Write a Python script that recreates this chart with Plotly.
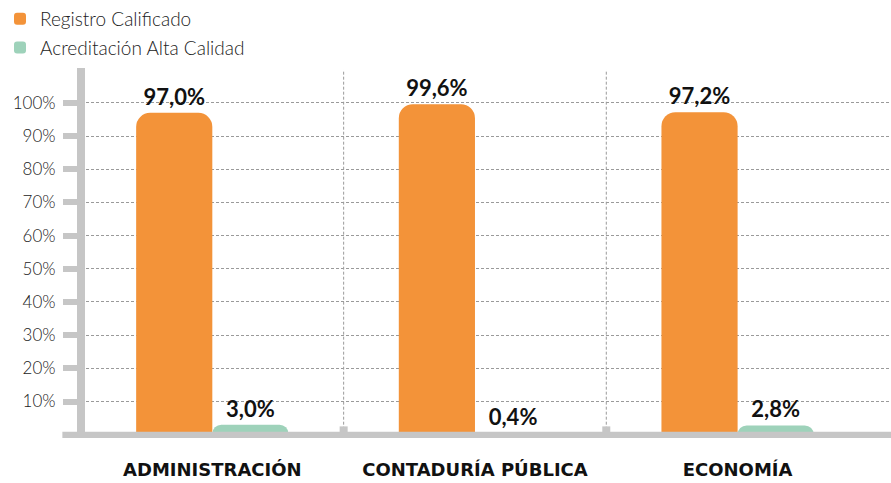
import plotly.graph_objects as go

categories = ["ADMINISTRACIÓN", "CONTADURÍA PÚBLICA", "ECONOMÍA"]
registro = [97.0, 99.6, 97.2]
acreditacion = [3.0, 0.4, 2.8]
series_names = ["Registro Calificado", "Acreditación Alta Calidad"]
ytick_vals = [10, 20, 30, 40, 50, 60, 70, 80, 90, 100]
ytick_text = [f"{v}%" for v in ytick_vals]

ORANGE = "#F39339"
GREEN = "#9ED2BA"
AXIS = "#C6C6C6"
GRID = "#9A9A9A"
FONT = "Lato"

fig = go.Figure()
for name, vals, col in [(series_names[0], registro, ORANGE), (series_names[1], acreditacion, GREEN)]:
    fig.add_trace(go.Bar(
        name=name, x=categories, y=vals, legendgroup=name,
        marker=dict(color=col, cornerradius=14, line_width=0),
        texttemplate="%{y:.1f}%", textposition="outside", cliponaxis=False,
        textfont=dict(family=FONT, size=22, color="#111", weight="bold"),
    ))

# category separators (dashed) and nubs on the x axis
for xv in [0.5, 1.5]:
    fig.add_shape(type="line", xref="x", yref="y", x0=xv, x1=xv, y0=0, y1=110,
                  line=dict(color=GRID, width=1, dash="3px,2px"), layer="below")
    fig.add_shape(type="line", xref="x", yref="y", x0=xv, x1=xv, y0=-3.5, y1=2.5,
                  line=dict(color=AXIS, width=8))

# axis lines
fig.add_shape(type="line", xref="paper", yref="y", x0=-0.023, x1=1, y0=-0.35, y1=-0.35,
              line=dict(color=AXIS, width=8))
fig.add_shape(type="line", xref="paper", yref="y", x0=0, x1=0, y0=-3, y1=110.5,
              line=dict(color=AXIS, width=8))

fig.update_layout(
    width=891, height=483,
    margin=dict(l=81, r=0, t=68, b=45, autoexpand=False),
    paper_bgcolor="white", plot_bgcolor="white",
    separators=",.",
    barmode="group", bargap=0.42, bargroupgap=0,
    font=dict(family=FONT, color="#333"),
    showlegend=True,
    legend=dict(x=0, y=1, xref="container", yref="container", xanchor="left", yanchor="top",
                font=dict(family=FONT, size=19, color="#222", weight=300), tracegroupgap=1,
                bgcolor="rgba(0,0,0,0)"),
    xaxis=dict(range=[-0.5, 2.584], showgrid=False, showline=False, ticks="",
               tickfont=dict(family="DejaVu Sans", size=18, color="#111", weight="bold"),
               ticklabelstandoff=19, zeroline=False, fixedrange=True),
    yaxis=dict(range=[-1, 110.5], tickvals=ytick_vals, ticktext=ytick_text,
               showgrid=True, gridcolor=GRID, griddash="3px,2px", gridwidth=1,
               ticks="outside", ticklen=17, tickwidth=6, tickcolor=AXIS,
               showline=False, zeroline=False,
               tickfont=dict(family=FONT, size=17, color="#222", weight=300), ticklabelstandoff=4),
)
fig.write_html("out.html", post_script="document.body.style.margin='0';",
               config={"displayModeBar": False})
